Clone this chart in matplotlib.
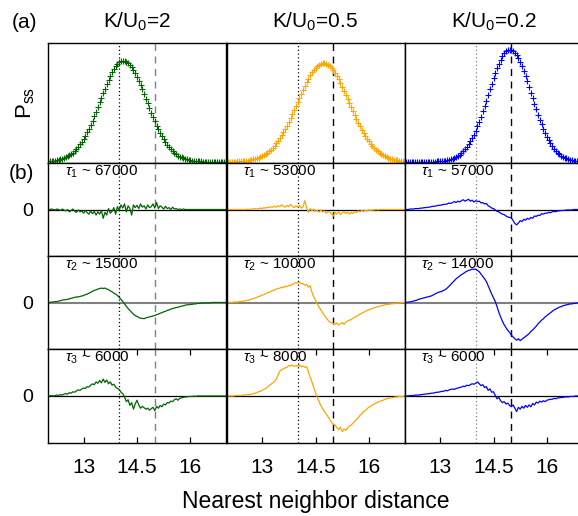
import numpy as np
import matplotlib
matplotlib.use("Agg")
import matplotlib.pyplot as plt

plt.rcParams['font.family'] = ['Liberation Sans', 'DejaVu Sans']
plt.rcParams['mathtext.fontset'] = 'custom'
plt.rcParams['mathtext.rm'] = 'Liberation Sans'
plt.rcParams['mathtext.it'] = 'Liberation Sans:italic'

# ---- data ----
titles = ['K/U$_\\mathregular{0}$=2', 'K/U$_\\mathregular{0}$=0.5', 'K/U$_\\mathregular{0}$=0.2']
colors = ['#006400', '#ffa500', '#0000ff']
tau_labels = [['67000', '15000', '6000'],
              ['53000', '10000', '8000'],
              ['57000', '14000', '6000']]

x_d = np.round(np.arange(12.0, 17.0001, 0.05), 2)   # sample positions

p_k2 = [0.004, 0.005, 0.007, 0.009, 0.011, 0.014, 0.017, 0.021, 0.026, 0.031,
        0.038, 0.046, 0.055, 0.066, 0.078, 0.092, 0.108, 0.126, 0.146, 0.168,
        0.193, 0.219, 0.248, 0.279, 0.312, 0.347, 0.383, 0.421, 0.460, 0.500,
        0.539, 0.579, 0.617, 0.654, 0.690, 0.723, 0.753, 0.780, 0.803, 0.821,
        0.836, 0.845, 0.850, 0.849, 0.844, 0.833, 0.818, 0.798, 0.775, 0.747,
        0.716, 0.683, 0.647, 0.610, 0.571, 0.531, 0.492, 0.452, 0.414, 0.376,
        0.340, 0.305, 0.273, 0.242, 0.214, 0.188, 0.164, 0.142, 0.122, 0.105,
        0.089, 0.076, 0.064, 0.053, 0.044, 0.037, 0.030, 0.025, 0.020, 0.016,
        0.013, 0.010, 0.008, 0.006, 0.005, 0.004, 0.003, 0.002, 0.002, 0.001,
        0.001, 0.001, 0.001, 0.000, 0.000, 0.000, 0.000, 0.000, 0.000, 0.000,
        0.000]
p_k05 = [0.001, 0.001, 0.001, 0.001, 0.002, 0.002, 0.003, 0.004, 0.005, 0.006,
         0.007, 0.009, 0.011, 0.013, 0.016, 0.020, 0.024, 0.028, 0.034, 0.040,
         0.048, 0.056, 0.066, 0.077, 0.089, 0.103, 0.119, 0.136, 0.155, 0.175,
         0.197, 0.222, 0.247, 0.275, 0.304, 0.335, 0.367, 0.400, 0.434, 0.468,
         0.503, 0.538, 0.573, 0.607, 0.639, 0.671, 0.700, 0.727, 0.752, 0.774,
         0.792, 0.807, 0.819, 0.826, 0.830, 0.829, 0.825, 0.817, 0.804, 0.789,
         0.770, 0.747, 0.722, 0.694, 0.665, 0.633, 0.600, 0.566, 0.531, 0.496,
         0.461, 0.427, 0.393, 0.360, 0.329, 0.298, 0.270, 0.242, 0.217, 0.193,
         0.171, 0.151, 0.132, 0.115, 0.100, 0.087, 0.075, 0.064, 0.055, 0.046,
         0.039, 0.033, 0.027, 0.023, 0.019, 0.016, 0.013, 0.010, 0.008, 0.007,
         0.005]
p_k02 = [0.000, 0.000, 0.000, 0.000, 0.000, 0.000, 0.000, 0.000, 0.000, 0.000,
         0.000, 0.000, 0.000, 0.001, 0.001, 0.001, 0.001, 0.002, 0.003, 0.003,
         0.005, 0.006, 0.008, 0.010, 0.013, 0.016, 0.021, 0.026, 0.032, 0.040,
         0.049, 0.060, 0.072, 0.087, 0.104, 0.124, 0.146, 0.171, 0.198, 0.229,
         0.263, 0.299, 0.338, 0.380, 0.424, 0.469, 0.516, 0.564, 0.611, 0.658,
         0.704, 0.748, 0.789, 0.827, 0.860, 0.889, 0.912, 0.929, 0.940, 0.945,
         0.943, 0.934, 0.920, 0.899, 0.872, 0.841, 0.805, 0.765, 0.722, 0.677,
         0.630, 0.583, 0.535, 0.488, 0.442, 0.397, 0.355, 0.315, 0.277, 0.242,
         0.210, 0.181, 0.155, 0.132, 0.112, 0.094, 0.078, 0.065, 0.053, 0.043,
         0.035, 0.028, 0.023, 0.018, 0.014, 0.011, 0.009, 0.007, 0.005, 0.004,
         0.003]

# modes, K/U0=2
m1_k2 = [0, 0, 0.01, 0, -0.01, 0.01, 0, -0.02, 0.01, -0.01,
         -0.03, 0, -0.05, -0.02, 0.01, -0.04, -0.06, -0.01, -0.05, -0.03,
         -0.08, -0.02, -0.07, -0.10, -0.03, -0.09, -0.04, -0.12, -0.05, -0.10,
         -0.02, -0.19, -0.06, -0.12, 0.02, -0.08, -0.04, 0.04, -0.10, 0.06,
         -0.02, 0.10, 0.03, 0.12, -0.05, 0.08, 0.02, -0.12, 0.10, 0.04,
         0.09, 0.02, 0.12, 0.05, 0.08, 0.01, 0.10, 0.04, 0.06, 0.12,
         0.03, 0.15, 0.02, 0.08, 0.05, 0.01, 0.07, 0.02, 0.04, 0.00,
         0.05, 0.01, 0.02, 0.00, 0.01, 0.00, 0.01, 0, 0, 0,
         0, 0, 0, 0, 0, 0, 0, 0, 0, 0,
         0, 0, 0, 0, 0, 0, 0, 0, 0, 0,
         0]
m2_k2 = [0, 0, 0.01, 0.01, 0.02, 0.02, 0.03, 0.04, 0.05, 0.06,
         0.06, 0.07, 0.08, 0.09, 0.10, 0.11, 0.12, 0.12, 0.13, 0.14,
         0.15, 0.17, 0.18, 0.20, 0.22, 0.24, 0.26, 0.27, 0.29, 0.30,
         0.31, 0.30, 0.31, 0.29, 0.28, 0.25, 0.23, 0.20, 0.18, 0.15,
         0.11, 0.07, 0.02, -0.03, -0.08, -0.13, -0.17, -0.21, -0.25, -0.28,
         -0.30, -0.32, -0.34, -0.34, -0.35, -0.33, -0.32, -0.31, -0.30, -0.29,
         -0.28, -0.26, -0.25, -0.23, -0.22, -0.20, -0.19, -0.17, -0.16, -0.14,
         -0.13, -0.12, -0.11, -0.10, -0.09, -0.08, -0.07, -0.06, -0.05, -0.05,
         -0.04, -0.04, -0.03, -0.03, -0.02, -0.02, -0.02, -0.01, -0.01, -0.01,
         -0.01, -0.01, 0, 0, 0, 0, 0, 0, 0, 0,
         0]
m3_k2 = [0, 0, 0.01, 0, 0.01, 0.02, 0.01, 0.03, 0.02, 0.04,
         0.05, 0.04, 0.07, 0.06, 0.09, 0.08, 0.11, 0.13, 0.12, 0.15,
         0.17, 0.16, 0.20, 0.19, 0.23, 0.26, 0.24, 0.30, 0.27, 0.33,
         0.28, 0.36, 0.29, 0.34, 0.26, 0.30, 0.23, 0.25, 0.19, 0.16,
         0.14, 0.08, 0.05, -0.02, -0.12, -0.08, -0.20, -0.14, -0.28, -0.17,
         -0.09, -0.19, -0.26, -0.22, -0.25, -0.28, -0.26, -0.30, -0.27, -0.24,
         -0.31, -0.22, -0.26, -0.20, -0.23, -0.17, -0.19, -0.14, -0.15, -0.11,
         -0.12, -0.08, -0.06, -0.09, -0.05, -0.04, -0.03, -0.02, -0.02, -0.01,
         -0.01, -0.01, 0, -0.01, 0, 0, 0, 0, 0, 0,
         0, 0, 0, 0, 0, 0, 0, 0, 0, 0,
         0]

# modes, K/U0=0.5
m1_k05 = [0, 0, 0, 0, 0, 0, 0, 0, 0, 0,
          0, 0, 0.01, 0, 0.01, 0.01, 0.02, 0.01, 0.02, 0.03,
          0.02, 0.04, 0.03, 0.05, 0.04, 0.06, 0.05, 0.07, 0.05, 0.08,
          0.06, 0.10, 0.07, 0.05, 0.09, 0.06, 0.11, 0.07, 0.04, 0.08,
          0.05, 0.09, 0.03, 0.06, 0.19, 0.04, -0.06, 0.02, -0.03, 0.01,
          -0.04, -0.02, -0.06, -0.01, -0.05, -0.03, -0.08, -0.04, -0.06, -0.09,
          -0.14, -0.06, -0.10, -0.05, -0.11, -0.07, -0.04, -0.09, -0.05, -0.10,
          -0.06, -0.09, -0.04, -0.07, -0.03, -0.05, -0.02, -0.04, -0.02, -0.03,
          -0.01, -0.02, -0.01, -0.01, 0, -0.01, 0, 0, 0, 0,
          0, 0, 0, 0, 0, 0, 0, 0, 0, 0,
          0]
m2_k05 = [0, 0, 0, 0, 0.01, 0.01, 0.01, 0.02, 0.02, 0.03,
          0.03, 0.04, 0.05, 0.06, 0.07, 0.08, 0.10, 0.11, 0.13, 0.14,
          0.16, 0.17, 0.19, 0.21, 0.22, 0.24, 0.26, 0.27, 0.29, 0.30,
          0.31, 0.33, 0.32, 0.35, 0.34, 0.37, 0.36, 0.39, 0.41, 0.43,
          0.42, 0.44, 0.40, 0.41, 0.37, 0.39, 0.33, 0.36, 0.22, 0.12,
          0.05, -0.03, -0.10, -0.16, -0.22, -0.28, -0.33, -0.38, -0.42, -0.44,
          -0.45, -0.47, -0.44, -0.48, -0.46, -0.43, -0.47, -0.42, -0.40, -0.38,
          -0.37, -0.34, -0.32, -0.30, -0.27, -0.25, -0.23, -0.21, -0.19, -0.17,
          -0.16, -0.14, -0.13, -0.11, -0.10, -0.09, -0.08, -0.07, -0.06, -0.05,
          -0.04, -0.04, -0.03, -0.03, -0.02, -0.02, -0.01, -0.01, -0.01, 0,
          0]
m3_k05 = [0, 0, 0, 0, 0, 0.01, 0.01, 0.01, 0.01, 0.02,
          0.02, 0.02, 0.03, 0.03, 0.04, 0.05, 0.06, 0.07, 0.09, 0.10,
          0.12, 0.14, 0.16, 0.19, 0.22, 0.25, 0.28, 0.31, 0.36, 0.45,
          0.53, 0.56, 0.58, 0.60, 0.61, 0.65, 0.64, 0.66, 0.63, 0.65,
          0.63, 0.66, 0.62, 0.64, 0.61, 0.62, 0.52, 0.40, 0.30, 0.18,
          0.07, -0.03, -0.12, -0.20, -0.27, -0.33, -0.38, -0.44, -0.50, -0.56,
          -0.60, -0.62, -0.67, -0.72, -0.66, -0.76, -0.70, -0.73, -0.68, -0.64,
          -0.62, -0.58, -0.54, -0.50, -0.46, -0.41, -0.38, -0.33, -0.31, -0.27,
          -0.24, -0.22, -0.19, -0.17, -0.15, -0.13, -0.12, -0.10, -0.09, -0.07,
          -0.06, -0.05, -0.04, -0.04, -0.03, -0.02, -0.02, -0.01, -0.01, -0.01,
          0]

# modes, K/U0=0.2
m1_k02 = [0, 0, 0, 0.01, 0.01, 0.01, 0.02, 0.02, 0.02, 0.03,
          0.03, 0.04, 0.04, 0.05, 0.05, 0.06, 0.07, 0.07, 0.08, 0.09,
          0.09, 0.10, 0.11, 0.11, 0.12, 0.14, 0.13, 0.15, 0.17, 0.15,
          0.18, 0.16, 0.19, 0.21, 0.18, 0.20, 0.22, 0.18, 0.20, 0.16,
          0.19, 0.17, 0.18, 0.14, 0.15, 0.12, 0.13, 0.08, 0.06, 0.03,
          0.02, -0.01, -0.04, -0.05, -0.08, -0.10, -0.11, -0.14, -0.16, -0.17,
          -0.18, -0.24, -0.30, -0.33, -0.29, -0.24, -0.26, -0.21, -0.23, -0.19,
          -0.21, -0.17, -0.19, -0.14, -0.15, -0.12, -0.13, -0.09, -0.10, -0.08,
          -0.08, -0.06, -0.07, -0.05, -0.04, -0.05, -0.03, -0.03, -0.02, -0.02,
          -0.02, -0.01, -0.01, -0.01, -0.01, 0, 0, 0, 0, 0,
          0]
m2_k02 = [0, 0, 0.01, 0.01, 0.02, 0.03, 0.04, 0.05, 0.07, 0.08,
          0.09, 0.10, 0.11, 0.12, 0.13, 0.14, 0.16, 0.18, 0.20, 0.22,
          0.23, 0.24, 0.26, 0.28, 0.31, 0.35, 0.39, 0.43, 0.47, 0.51,
          0.54, 0.57, 0.60, 0.62, 0.65, 0.67, 0.69, 0.70, 0.72, 0.71,
          0.72, 0.69, 0.66, 0.61, 0.56, 0.51, 0.45, 0.36, 0.27, 0.18,
          0.10, 0.02, -0.09, -0.21, -0.31, -0.40, -0.48, -0.54, -0.60, -0.64,
          -0.70, -0.74, -0.78, -0.81, -0.78, -0.82, -0.79, -0.76, -0.73, -0.70,
          -0.67, -0.62, -0.59, -0.55, -0.51, -0.46, -0.42, -0.38, -0.35, -0.31,
          -0.28, -0.25, -0.22, -0.19, -0.16, -0.14, -0.12, -0.10, -0.09, -0.07,
          -0.06, -0.05, -0.04, -0.03, -0.03, -0.02, -0.02, -0.01, -0.01, -0.01,
          0]
m3_k02 = [0, 0, 0, 0.01, 0.01, 0.01, 0.02, 0.02, 0.02, 0.03,
          0.03, 0.04, 0.04, 0.05, 0.05, 0.06, 0.06, 0.07, 0.08, 0.08,
          0.09, 0.10, 0.10, 0.12, 0.11, 0.13, 0.14, 0.15, 0.14, 0.16,
          0.17, 0.18, 0.19, 0.21, 0.20, 0.23, 0.22, 0.24, 0.26, 0.25,
          0.27, 0.30, 0.26, 0.22, 0.24, 0.18, 0.20, 0.12, 0.15, 0.08,
          0.09, 0.01, -0.06, -0.03, -0.10, -0.14, -0.12, -0.17, -0.15, -0.20,
          -0.23, -0.19, -0.26, -0.33, -0.24, -0.28, -0.22, -0.26, -0.20, -0.24,
          -0.19, -0.23, -0.16, -0.19, -0.13, -0.15, -0.11, -0.13, -0.10, -0.12,
          -0.09, -0.08, -0.07, -0.07, -0.05, -0.06, -0.04, -0.04, -0.03, -0.03,
          -0.02, -0.02, -0.02, -0.01, -0.01, -0.01, 0, 0, 0, 0,
          0]

pss = [p_k2, p_k05, p_k02]
modes = [[m1_k2, m2_k2, m3_k2],
         [m1_k05, m2_k05, m3_k05],
         [m1_k02, m2_k02, m3_k02]]

x_dot = 14.0
x_dash = 15.0
dot_col = ['black', 'black', 'gray']
dash_col = ['gray', 'black', 'black']
zero_col = ['black', 'gray', 'black']
zero_lw = [0.9, 1.5, 0.9]

# ---- layout (pixels of a 578x516 figure) ----
W, H = 578, 516
fig = plt.figure(figsize=(W / 100, H / 100), dpi=100)
col_left = [48, 226.5, 404.5]
col_w = 178
row_top = [43, 163, 256, 349]
row_bot = [163, 256, 349, 443]


def add_ax(c, r):
    l = col_left[c] / W
    b = 1 - row_bot[r] / H
    h = (row_bot[r] - row_top[r]) / H
    ax = fig.add_axes([l, b, col_w / W, h])
    for s in ax.spines.values():
        s.set_linewidth(1.0)
    ax.set_xlim(12, 17)
    return ax


for c in range(3):
    ax = add_ax(c, 0)
    ax.axvline(x_dot, color=dot_col[c], ls=(0, (1, 2)), lw=0.9)
    ax.axvline(x_dash, color=dash_col[c], ls=(0, (5, 4)), lw=1.0)
    ax.plot(x_d, pss[c], ls='none', marker='+', ms=4, mew=0.8, color=colors[c])
    ax.set_ylim(-0.01, 1.0)
    ax.set_xticks([])
    ax.set_yticks([])
    ax.set_title(titles[c], fontsize=15, pad=11)
    if c == 0:
        ax.set_ylabel('P$_\\mathregular{ss}$', fontsize=16, labelpad=8)

    for r in range(3):
        ax = add_ax(c, r + 1)
        ax.axhline(0, color=zero_col[r], lw=zero_lw[r], zorder=1)
        ax.axvline(x_dot, color=dot_col[c], ls=(0, (1, 2)), lw=0.9, zorder=1)
        ax.axvline(x_dash, color=dash_col[c], ls=(0, (5, 4)), lw=1.0, zorder=1)
        ax.plot(x_d, modes[c][r], color=colors[c], lw=0.9, zorder=2)
        ax.set_ylim(-1, 1)
        ax.text(0.095, 1 - 9 / 93, '$\\tau_\\mathregular{%d}$ ~ %s' % (r + 1, tau_labels[c][r]),
                transform=ax.transAxes, fontsize=11, va='center', ha='left')
        if c == 0:
            ax.set_yticks([0])
            ax.set_yticklabels(['0'], fontsize=14)
            ax.tick_params(axis='y', length=0, pad=10.5)
        else:
            ax.set_yticks([])
        if r == 2:
            ax.set_xticks([13, 14.5, 16])
            ax.set_xticklabels(['13', '14.5', '16'], fontsize=15)
            ax.tick_params(axis='x', direction='in', top=True, length=4, width=0.9, pad=11)
            if c == 1:
                ax.set_xlabel('Nearest neighbor distance', fontsize=16.5, labelpad=9)
        else:
            ax.set_xticks([])

fig.text(25 / W, 1 - 22 / H, '(a)', fontsize=15, ha='center', va='center')
fig.text(21 / W, 1 - 174 / H, '(b)', fontsize=15, ha='center', va='center')

fig.savefig('out.png', dpi=100)
